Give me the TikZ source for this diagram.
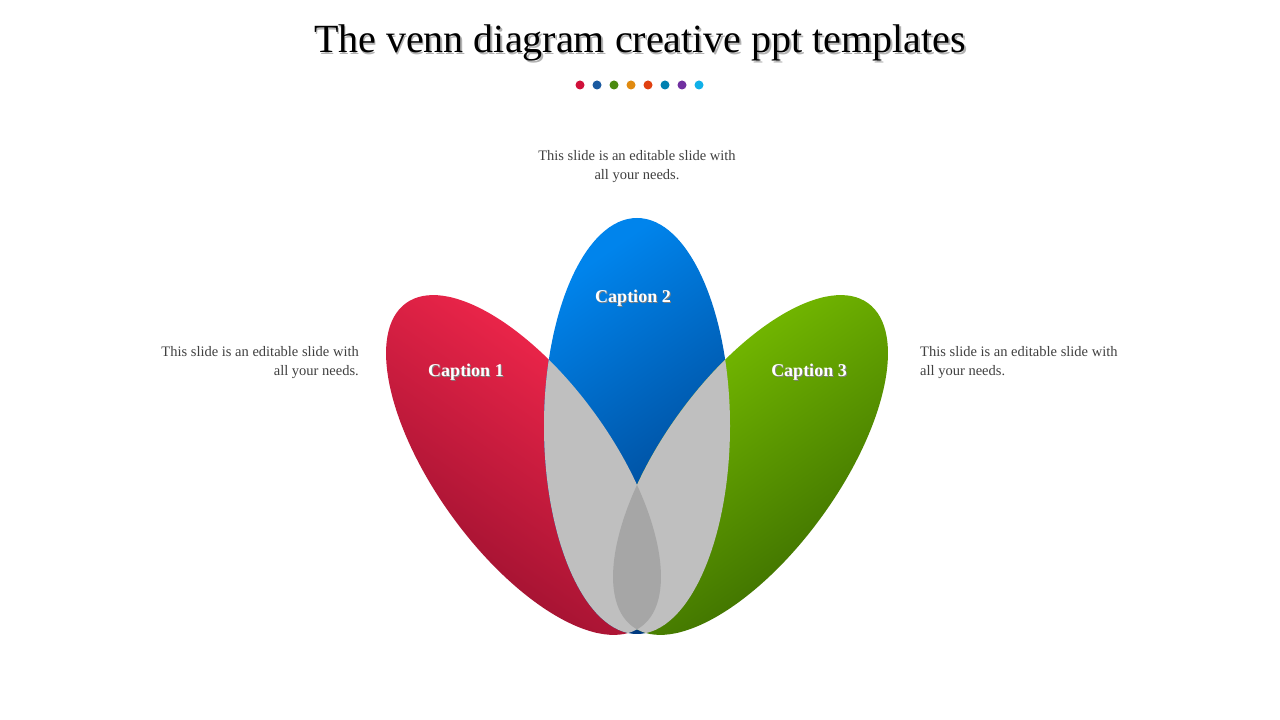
\documentclass[tikz,border=0pt]{standalone}
\usepackage{fontspec}
\setmainfont{Liberation Serif}
\begin{document}
\begin{tikzpicture}[x=1pt,y=1pt,
  body/.style={font=\fontsize{14.5}{19}\selectfont,text=black!75,inner sep=0pt},
  captext/.style={font=\fontsize{18}{20}\selectfont\bfseries,text=white},
  dot/.style={circle,inner sep=0pt,minimum size=9pt}]
\definecolor{d1}{HTML}{D0103A}\definecolor{d2}{HTML}{1A5AA0}\definecolor{d3}{HTML}{4A8A10}
\definecolor{d4}{HTML}{E08A10}\definecolor{d5}{HTML}{E04010}\definecolor{d6}{HTML}{0080B0}
\definecolor{d7}{HTML}{7030A0}\definecolor{d8}{HTML}{10B0E8}
\definecolor{rA}{HTML}{FF2A50}\definecolor{rB}{HTML}{920E2C}
\definecolor{bA}{HTML}{0084EC}\definecolor{bB}{HTML}{003A80}
\definecolor{gA}{HTML}{7CC400}\definecolor{gB}{HTML}{386800}
\useasboundingbox[fill=white] (0,0) rectangle (1280,720);
\def\red{(523.5,255) ellipse [x radius=88,y radius=200,rotate=36]}
\def\blue{(637,294) ellipse [x radius=93,y radius=208]}
\def\green{(750.5,255) ellipse [x radius=88,y radius=200,rotate=-36]}
\shade[top color=rA,bottom color=rB,shading angle=-35] \red;
\shade[top color=bA,bottom color=bB,shading angle=35] \blue;
\shade[top color=gA,bottom color=gB,shading angle=35] \green;
\begin{scope}\clip \blue; \fill[black!25] \red; \fill[black!25] \green; \end{scope}
\begin{scope}\clip \red; \fill[black!35] \green; \end{scope}
% title
\node (t0) at (641.5,675) {\fontsize{40}{44}\selectfont\color{black!30}The venn diagram creative ppt templates};
\node (t) at (640,677) {\fontsize{40}{44}\selectfont The venn diagram creative ppt templates};
\foreach \c [count=\i] in {d1,d2,d3,d4,d5,d6,d7,d8}
  \node[dot,fill=\c] (dot\i) at (580+17*\i-17,635) {};
\node[body,align=center] (b2) at (637,553) {This slide is an editable slide with\\all your needs.};
\node[body,align=right,anchor=east] (b1) at (359,357) {This slide is an editable slide with\\all your needs.};
\node[body,align=left,anchor=west] (b3) at (920,357) {This slide is an editable slide with\\all your needs.};
\foreach \n/\x/\y/\t in {c1/466/348/Caption 1,c2/633/422/Caption 2,c3/809/348/Caption 3}{
  \node[captext,text=black!50] at (\x+1,\y-1.5) {\t};
  \node[captext] (\n) at (\x,\y) {\t};}
\end{tikzpicture}
\end{document}
